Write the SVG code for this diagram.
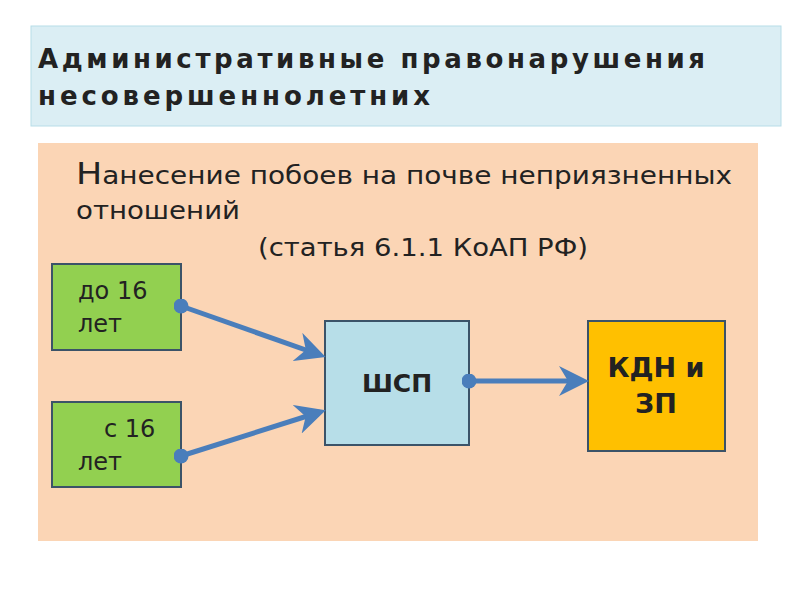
<svg xmlns="http://www.w3.org/2000/svg" width="800" height="600" viewBox="0 0 800 600">
<style>
text{font-family:"DejaVu Sans","Noto Sans",sans-serif;fill:#222}
.box{stroke:#3b5368;stroke-width:2}
.c{stroke:#4a7ebb;stroke-width:5;fill:none}
</style>
<defs>
<marker id="ah" viewBox="0 0 10 10" refX="8" refY="5" markerWidth="6" markerHeight="6" orient="auto" markerUnits="strokeWidth">
<path d="M0,0 L10,5 L0,10 L3,5 Z" fill="#4a7ebb"/>
</marker>
<marker id="dot" viewBox="0 0 10 10" refX="5" refY="5" markerWidth="3" markerHeight="3" markerUnits="strokeWidth">
<circle cx="5" cy="5" r="5" fill="#4a7ebb"/>
</marker>
</defs>
<rect width="800" height="600" fill="#fff"/>
<g id="title">
<rect x="31" y="26" width="750" height="100" fill="#dbeef4" stroke="#b7dde8"/>
<text x="38" y="68" font-size="26" font-weight="bold" textLength="667" lengthAdjust="spacing">Административные правонарушения</text>
<text x="38" y="105" font-size="26" font-weight="bold" textLength="392" lengthAdjust="spacing">несовершеннолетних</text>
</g>
<g id="panel">
<rect x="38" y="143" width="720" height="398" fill="#fbd5b5"/>
<text x="76" y="184" font-size="24" textLength="656" lengthAdjust="spacingAndGlyphs"><tspan font-size="30">Н</tspan>анесение побоев на почве неприязненных</text>
<text x="76" y="219" font-size="24" textLength="164" lengthAdjust="spacingAndGlyphs">отношений</text>
<text x="258" y="256" font-size="24" textLength="330" lengthAdjust="spacingAndGlyphs">(статья 6.1.1 КоАП РФ)</text>
</g>
<g id="n1"><rect class="box" x="52" y="264" width="129" height="86" fill="#92d050"/>
<text x="78" y="299" font-size="24">до 16</text><text x="78" y="332" font-size="24">лет</text></g>
<g id="n2"><rect class="box" x="52" y="402" width="129" height="85" fill="#92d050"/>
<text x="104" y="437" font-size="24">с 16</text><text x="78" y="470" font-size="24">лет</text></g>
<g id="n3"><rect class="box" x="325" y="321" width="144" height="124" fill="#b7dee8"/>
<text x="397" y="392" font-size="25" font-weight="bold" text-anchor="middle">ШСП</text></g>
<g id="n4"><rect class="box" x="588" y="321" width="137" height="130" fill="#ffc000"/>
<text x="656" y="377" font-size="27" font-weight="bold" text-anchor="middle">КДН и</text>
<text x="656" y="413" font-size="27" font-weight="bold" text-anchor="middle">ЗП</text></g>
<g id="connectors">
<line class="c" x1="181" y1="306" x2="320" y2="355" marker-start="url(#dot)" marker-end="url(#ah)"/>
<line class="c" x1="181" y1="456" x2="320" y2="412" marker-start="url(#dot)" marker-end="url(#ah)"/>
<line class="c" x1="469" y1="381" x2="583" y2="381" marker-start="url(#dot)" marker-end="url(#ah)"/>
</g>
</svg>
